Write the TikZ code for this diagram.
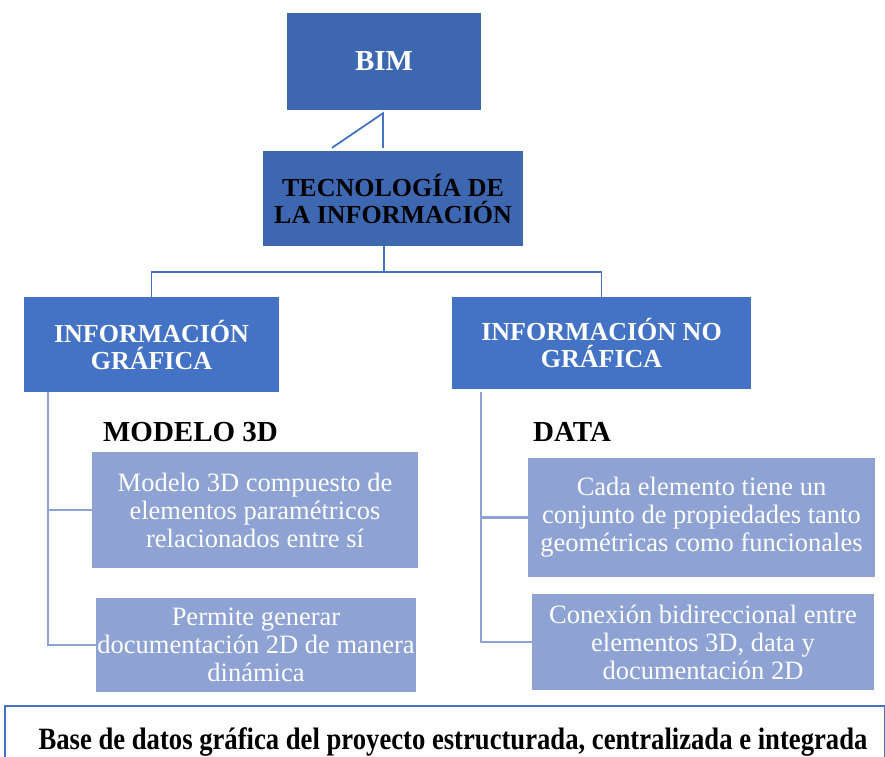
\documentclass[tikz,border=0pt]{standalone}
\usepackage{fontspec}
\setmainfont{Liberation Serif}
\newfontfamily\narrowfont[FakeStretch=0.86]{Liberation Serif}
\usepackage{tikz}
\usetikzlibrary{positioning, calc}
\definecolor{bimblue}{HTML}{3E67B1}
\definecolor{infoblue}{HTML}{4472C4}
\definecolor{softblue}{HTML}{8EA2D3}
\tikzset{
x=1pt, y=-1pt, % one unit is one pixel of the page, y runs down
topbox/.style={draw=none, fill=bimblue, inner sep=0pt, align=center, font=\bfseries\fontsize{26}{27}\selectfont}, % dark boxes at the top
infobox/.style={draw=none, fill=infoblue, text=white, inner sep=0pt, align=center, font=\bfseries\fontsize{26}{27}\selectfont}, % the two kinds of information
itembox/.style={draw=none, fill=softblue, text=white, inner sep=0pt, align=center, font=\fontsize{26.5}{28}\selectfont}, % light detail boxes
heading/.style={font=\bfseries\fontsize{29}{30}\selectfont, inner sep=0pt}, % MODELO 3D and DATA
link/.style={draw=infoblue, line width=1.8pt}, % lines between the blue boxes
branch/.style={draw=softblue, line width=2.4pt}, % side lines to the detail boxes
}

\begin{document}
\begin{tikzpicture}
\clip (0,0) rectangle (885,756);
\useasboundingbox (0,0) rectangle (885,756);
\node[topbox, text=white, minimum width=194, minimum height=97, font=\bfseries\fontsize{29}{30}\selectfont] (bim) at (384,61.5) {BIM};
\node[topbox, minimum width=260, minimum height=95] (tec) at (393,198.5) {TECNOLOGÍA DE\\LA INFORMACIÓN};
\node[infobox, minimum width=255, minimum height=95] (infog) at (151.5,344.5) {INFORMACIÓN\\GRÁFICA};
\node[infobox, minimum width=299, minimum height=92] (infong) at (601.5,343) {INFORMACIÓN NO\\GRÁFICA};
\node[heading] (modelo) at (190.5,432) {MODELO 3D};
\node[heading] (data) at (572,432) {DATA};
\node[itembox, minimum width=326, minimum height=116] (m1) at (255,510) {Modelo 3D compuesto de\\elementos paramétricos\\relacionados entre sí};
\node[itembox, minimum width=320, minimum height=94] (m2) at (256,645) {Permite generar\\documentación 2D de manera\\dinámica};
\node[itembox, minimum width=347, minimum height=119] (d1) at (701.5,517.5) {Cada elemento tiene un\\conjunto de propiedades tanto\\geométricas como funcionales};
\node[itembox, minimum width=342, minimum height=96] (d2) at (703,642) {Conexión bidireccional entre\\elementos 3D, data y\\documentación 2D};
\node[draw=infoblue, line width=1.8pt, inner sep=0pt, minimum width=880, minimum height=72, font=\narrowfont\bfseries\fontsize{31}{32}\selectfont] (base) at (445,742)
  {\hspace*{16pt}Base de datos gráfica del proyecto estructurada, centralizada e integrada};

% connectors
\draw[link] ([xshift=-61, yshift=3]tec.north) -- ([xshift=-1, yshift=-3]bim.south)
  -- ([xshift=-10, yshift=3]tec.north);
\coordinate (fork) at (384,272);
\draw[link] (tec.south -| fork) -- (fork);
\draw[link] (infog.north) |- (fork) -| (infong.north);
\coordinate (lg) at (48,392);
\coordinate (lng) at (481,392);
\draw[branch] (lg) |- (m2.west);
\draw[branch] (lg |- m1.west) -- (m1.west);
\draw[branch] (lng) |- (d2.west);
\draw[branch] (lng |- d1.west) -- (d1.west);
\end{tikzpicture}
\end{document}
